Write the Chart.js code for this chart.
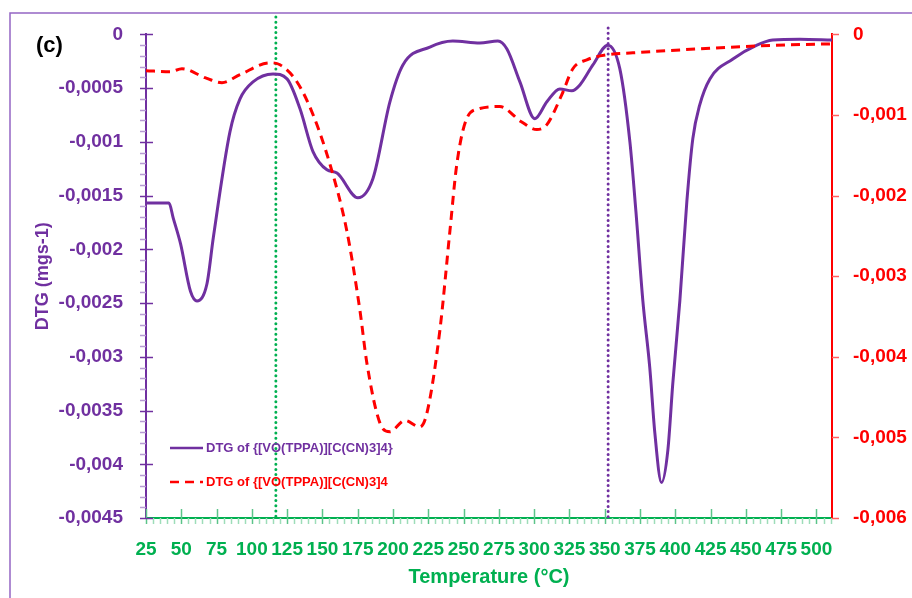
<!DOCTYPE html>
<html>
<head>
<meta charset="utf-8">
<script src="https://cdn.jsdelivr.net/npm/chart.js@4/dist/chart.umd.min.js"></script>
<style>
    html, body { margin: 0; padding: 0; background: #fff; }
    #wrap { width: 912px; height: 598px; position: relative; }
</style>
</head>
<body>
<div id="wrap"><canvas id="dtgChart"></canvas></div>
<script>
// Temperature (°C) and DTG values
const purpleTemps = [25, 41.3, 44.3, 49.5, 56.5, 61.1, 68.2, 72.7, 84.5, 91.6, 100.8, 115, 124.9, 134.1, 143.3, 153.2, 160.3, 175.1, 185.8, 197.8, 207, 226.1, 242.4, 261.5, 274.3, 280.7, 289.9, 300.5, 309, 318.2, 326.7, 332.4, 341.6, 352.2, 360.7, 367.8, 372.1, 377, 381.9, 385.5, 390.2, 394.7, 398.2, 403.2, 408.2, 412.4, 417.3, 424.5, 440.8, 457.8, 469, 488.2, 511];
const purpleDtg = [-0.00157, -0.00157, -0.00171, -0.00195, -0.00239, -0.00248, -0.00232, -0.00189, -0.000905, -0.0006, -0.000442, -0.000368, -0.000414, -0.000692, -0.00109, -0.00126, -0.00129, -0.00152, -0.00134, -0.000627, -0.000284, -0.000118, -0.000062, -0.00008, -0.000062, -0.000136, -0.000442, -0.000785, -0.000627, -0.000507, -0.000525, -0.00047, -0.000284, -0.0001, -0.000321, -0.000998, -0.00165, -0.00248, -0.0031, -0.00371, -0.00417, -0.00387, -0.00325, -0.00248, -0.00155, -0.00097, -0.000656, -0.000414, -0.000229, -0.0001, -0.000053, -0.000044, -0.000053];

const redTemps = [25, 42, 50.5, 66.8, 78.8, 91.6, 112.8, 119.9, 131.9, 143.3, 155.3, 167.3, 176.6, 181.5, 190.7, 197.8, 208.4, 219, 224, 233.2, 240.3, 245.2, 252.3, 261.5, 275.7, 290.6, 301.9, 309, 319.6, 327.4, 337.3, 351.5, 369.9, 405.3, 445.7, 479, 511];
const redDtg = [-0.00045, -0.000463, -0.000426, -0.000537, -0.000599, -0.0005, -0.000352, -0.000377, -0.000587, -0.000994, -0.00161, -0.00244, -0.00343, -0.00408, -0.00482, -0.00493, -0.00479, -0.00487, -0.0047, -0.00367, -0.00244, -0.00161, -0.00104, -0.00092, -0.000895, -0.00108, -0.00118, -0.00112, -0.000747, -0.000426, -0.000315, -0.000253, -0.000229, -0.000191, -0.000154, -0.00013, -0.000117];

// Dotted marker lines (°C)
const greenMarkerTemp = 117;
const purpleMarkerTemp = 352.4;

const purple = '#7030A0';
const red = '#FF0000';
const green = '#00B050';
const tickFont = { family: 'Liberation Sans, Arial, sans-serif', size: 19, weight: 'bold' };

// Numbers with a decimal comma, like the original
function commaLabel(v) {
    return Number(v.toFixed(4)).toString().replace('.', ',');
}

// Frame, "(c)", dotted markers, tick marks and the legend
const decorPlugin = {
    id: 'decor',
    beforeDraw(chart) {
        const ctx = chart.ctx;
        ctx.save();
        ctx.strokeStyle = '#9466C4';
        ctx.lineWidth = 1.5;
        ctx.beginPath();
        ctx.moveTo(10, 598);
        ctx.lineTo(10, 13);
        ctx.lineTo(912, 13);
        ctx.stroke();
        ctx.fillStyle = '#000';
        ctx.font = 'bold 22px Liberation Sans, Arial, sans-serif';
        ctx.textBaseline = 'middle';
        ctx.fillText('(c)', 36, 46);
        ctx.restore();
    },
    beforeDatasetsDraw(chart) {
        const ctx = chart.ctx;
        const x = chart.scales.x;
        const area = chart.chartArea;
        ctx.save();
        ctx.lineWidth = 3;
        ctx.lineCap = 'round';
        ctx.setLineDash([0, 5.2]);
        ctx.strokeStyle = green;
        let gx = x.getPixelForValue(greenMarkerTemp);
        ctx.beginPath();
        ctx.moveTo(gx, 17);
        ctx.lineTo(gx, area.bottom);
        ctx.stroke();
        ctx.strokeStyle = purple;
        let px = x.getPixelForValue(purpleMarkerTemp);
        ctx.beginPath();
        ctx.moveTo(px, 28);
        ctx.lineTo(px, area.bottom);
        ctx.stroke();
        ctx.restore();
    },
    afterDraw(chart) {
        const ctx = chart.ctx;
        const x = chart.scales.x;
        const yl = chart.scales.y;
        const yr = chart.scales.y2;
        const area = chart.chartArea;
        ctx.save();
        ctx.lineWidth = 1.5;

        // x ticks: major every 25 above, minor every 5 below
        for (let t = 25; t <= 510; t += 5) {
            const p = Math.round(x.getPixelForValue(t)) + 0.5;
            const major = (t - 25) % 25 === 0;
            ctx.strokeStyle = major ? '#5CC48A' : '#9EDDB9';
            ctx.beginPath();
            ctx.moveTo(p, major ? area.bottom - 9 : area.bottom);
            ctx.lineTo(p, area.bottom + 6);
            ctx.stroke();
        }

        // left ticks: major every 0.0005 across the axis, minor every 0.0001
        for (let k = 0; k <= 45; k++) {
            const p = Math.round(yl.getPixelForValue(-k * 0.0001)) + 0.5;
            const major = k % 5 === 0;
            ctx.strokeStyle = major ? purple : '#B79BD3';
            ctx.beginPath();
            ctx.moveTo(area.left - 6, p);
            ctx.lineTo(major ? area.left + 7 : area.left, p);
            ctx.stroke();
        }

        // right ticks every 0.001
        for (let k = 0; k <= 6; k++) {
            const p = Math.round(yr.getPixelForValue(-k * 0.001)) + 0.5;
            ctx.strokeStyle = '#FF6060';
            ctx.beginPath();
            ctx.moveTo(area.right, p);
            ctx.lineTo(area.right + 7, p);
            ctx.stroke();
        }

        // legend inside the plot
        const rows = [
            { ds: chart.data.datasets[1], y: 448 },
            { ds: chart.data.datasets[0], y: 482 }
        ];
        ctx.font = 'bold 13px Liberation Sans, Arial, sans-serif';
        ctx.textBaseline = 'middle';
        rows.forEach(r => {
            ctx.strokeStyle = r.ds.borderColor;
            ctx.lineWidth = 2.5;
            ctx.setLineDash(r.ds.borderDash || []);
            ctx.beginPath();
            ctx.moveTo(170, r.y);
            ctx.lineTo(203, r.y);
            ctx.stroke();
            ctx.setLineDash([]);
            ctx.fillStyle = r.ds.borderColor;
            ctx.fillText(r.ds.label, 206, r.y);
        });
        ctx.restore();
    }
};

new Chart(document.getElementById('dtgChart').getContext('2d'), {
    type: 'line',
    data: {
        datasets: [
            {
                label: 'DTG of {[VO(TPPA)][C(CN)3]4',
                data: redTemps.map((t, i) => ({ x: t, y: redDtg[i] })),
                yAxisID: 'y2',
                borderColor: red,
                borderWidth: 3,
                borderDash: [9, 6],
                pointRadius: 0,
                cubicInterpolationMode: 'monotone',
                order: 1
            },
            {
                label: 'DTG of {[VO(TPPA)][C(CN)3]4}',
                data: purpleTemps.map((t, i) => ({ x: t, y: purpleDtg[i] })),
                yAxisID: 'y',
                borderColor: purple,
                borderWidth: 3,
                pointRadius: 0,
                cubicInterpolationMode: 'monotone',
                order: 2
            }
        ]
    },
    options: {
        responsive: true,
        maintainAspectRatio: false,
        animation: false,
        layout: { padding: { top: 32, left: 0, right: 0, bottom: 0 } },
        plugins: {
            legend: { display: false },
            tooltip: { enabled: false }
        },
        scales: {
            x: {
                type: 'linear',
                position: 'bottom',
                min: 25,
                max: 511,
                afterFit: s => { s.height = 80; },
                grid: { display: false, drawTicks: false },
                border: { color: green, width: 2 },
                ticks: {
                    stepSize: 25,
                    includeBounds: false,
                    autoSkip: false,
                    maxRotation: 0,
                    padding: 20,
                    color: green,
                    font: tickFont
                },
                title: {
                    display: true,
                    text: 'Temperature (°C)',
                    color: green,
                    font: { family: 'Liberation Sans, Arial, sans-serif', size: 20, weight: 'bold' },
                    padding: { top: 9, bottom: 9 }
                }
            },
            y: {
                position: 'left',
                min: -0.0045,
                max: 0,
                afterFit: s => { s.width = 146; },
                grid: { display: false, drawTicks: false },
                border: { color: purple, width: 2 },
                ticks: {
                    stepSize: 0.0005,
                    padding: 23,
                    color: purple,
                    font: tickFont,
                    callback: v => commaLabel(v)
                },
                title: {
                    display: true,
                    text: 'DTG (mgs-1)',
                    color: purple,
                    font: { family: 'Liberation Sans, Arial, sans-serif', size: 18, weight: 'bold' },
                    padding: { top: 32, bottom: 32 }
                }
            },
            y2: {
                position: 'right',
                min: -0.006,
                max: 0,
                afterFit: s => { s.width = 80; },
                grid: { display: false, drawTicks: false },
                border: { color: red, width: 2 },
                ticks: {
                    stepSize: 0.001,
                    padding: 21,
                    color: red,
                    font: tickFont,
                    callback: v => commaLabel(v)
                }
            }
        }
    },
    plugins: [decorPlugin]
});
</script>
</body>
</html>
